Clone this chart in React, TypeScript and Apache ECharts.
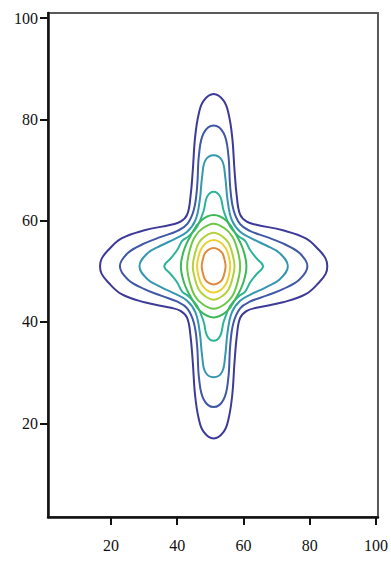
import React, { useEffect, useRef } from "react";
import * as echarts from "echarts";

// Axis tick values
const X_TICKS = [20, 40, 60, 80, 100];
const Y_TICKS = [20, 40, 60, 80, 100];

// Centre of the contour family (data units)
const CENTER = [51, 51];

// Contour level colours, outermost to innermost
const LEVEL_COLORS = [
  "#3d3a98",
  "#4058a6",
  "#3597b0",
  "#2db497",
  "#3cb85a",
  "#6cc746",
  "#b3d13c",
  "#eccf34",
  "#e08a3c",
];

// Each contour: upper-left quadrant, as offsets
// [dx, dy] from the centre, going from the top point to the left point.
const LEVEL_1 = [
  [0, 34.0], [-3.0, 32.7], [-4.5, 30.1], [-5.6, 25.5], [-6.3, 18.9],
  [-7.0, 13.7], [-8.0, 10.2], [-10.0, 8.8], [-12.9, 8.2], [-20.9, 7.1],
  [-27.8, 5.5], [-31.8, 3.2], [-33.8, 1.5], [-34.3, 0],
];
const LEVEL_2 = [
  [0, 27.8], [-3.0, 26.3], [-4.4, 22.2], [-5.0, 15.6], [-6.0, 11.1],
  [-8.0, 8.3], [-10.9, 7.0], [-15.9, 5.8], [-20.9, 4.5], [-25.9, 2.6],
  [-28.3, 0],
];
const LEVEL_3 = [
  [0, 21.9], [-2.5, 20.9], [-3.5, 17.6], [-4.2, 13.0], [-5.5, 9.1],
  [-8.0, 6.8], [-11.4, 5.5], [-15.9, 4.1], [-19.9, 2.6], [-22.4, 0],
];
const LEVEL_4 = [
  [0, 14.7], [-2.0, 13.7], [-3.0, 11.0], [-5.0, 7.8], [-7.6, 5.9],
  [-9.5, 5.0], [-11.0, 3.2], [-12.9, 1.6], [-14.9, 0],
];
const LEVEL_5 = [
  [0, 10.1], [-4.0, 8.9], [-6.8, 6.2], [-8.9, 3.3], [-9.9, 0],
];
const LEVEL_6 = [
  [0, 8.4], [-3.3, 7.5], [-5.7, 5.8], [-7.2, 3.2], [-8.0, 0],
];
const LEVEL_7 = [
  [0, 6.6], [-2.6, 5.9], [-4.5, 4.6], [-5.6, 2.6], [-6.3, 0],
];
const LEVEL_8 = [
  [0, 5.2], [-2.1, 4.7], [-3.6, 3.6], [-4.5, 2.1], [-5.0, 0],
];
const LEVEL_9 = [
  [0, 3.6], [-1.5, 3.3], [-2.6, 2.6], [-3.2, 1.5], [-3.6, 0],
];

const CONTOURS = [
  LEVEL_1, LEVEL_2, LEVEL_3, LEVEL_4, LEVEL_5, LEVEL_6, LEVEL_7, LEVEL_8, LEVEL_9,
];

// Build a closed loop from a quadrant using the picture's mirror symmetry
function fullLoop(q: number[][]): number[][] {
  const n = q.length;
  const ul = q.map(([dx, dy]) => [dx, dy]);
  const ll = q.slice(0, n - 1).reverse().map(([dx, dy]) => [dx, -dy]);
  const lr = q.slice(1).map(([dx, dy]) => [-dx, -dy]);
  const ur = q.slice(1, n - 1).reverse().map(([dx, dy]) => [-dx, dy]);
  return [...ul, ...ll, ...lr, ...ur].map(([dx, dy]) => [
    CENTER[0] + dx,
    CENTER[1] + dy,
  ]);
}

const LOOPS = CONTOURS.map(fullLoop);

const FONT = "'Liberation Serif', 'Times New Roman', serif";

export default function App() {
  const ref = useRef<HTMLDivElement>(null);

  useEffect(() => {
    if (!ref.current) return;
    const chart = echarts.init(ref.current, null, { renderer: "svg" });
    chart.setOption({
      animation: false,
      backgroundColor: "#ffffff",
      grid: {
        left: 48,
        right: 9,
        top: 13,
        bottom: 45,
        show: true,
        borderColor: "#5a5a5a",
        borderWidth: 2,
      },
      xAxis: {
        type: "value",
        min: 1,
        max: 100.6,
        splitLine: { show: false },
        axisLine: { lineStyle: { color: "#111", width: 2.5 } },
        axisTick: {
          customValues: X_TICKS,
          length: 8,
          lineStyle: { color: "#111", width: 2 },
        },
        axisLabel: {
          customValues: X_TICKS,
          color: "#111",
          fontFamily: FONT,
          fontSize: 16,
          margin: 20,
        },
      },
      yAxis: {
        type: "value",
        min: 1.5,
        max: 101,
        splitLine: { show: false },
        axisLine: { lineStyle: { color: "#111", width: 2.5 } },
        axisTick: {
          customValues: Y_TICKS,
          length: 8,
          lineStyle: { color: "#111", width: 2 },
        },
        axisLabel: {
          customValues: Y_TICKS,
          color: "#111",
          fontFamily: FONT,
          fontSize: 16,
          margin: 10,
        },
      },
      series: [
        {
          type: "custom",
          coordinateSystem: "cartesian2d",
          silent: true,
          clip: false,
          data: CONTOURS.map((_, i) => [CENTER[0], CENTER[1], i]),
          encode: { x: 0, y: 1 },
          renderItem: (params: any, api: any) => {
            const i = params.dataIndex;
            const pts = LOOPS[i].map((p) => api.coord(p));
            return {
              type: "polygon",
              shape: { points: pts, smooth: 0.4 },
              style: {
                fill: "none",
                stroke: LEVEL_COLORS[i],
                lineWidth: 2,
              },
            };
          },
        },
      ],
    });
    return () => chart.dispose();
  }, []);

  return (
    <div
      ref={ref}
      style={{ position: "fixed", left: 0, top: 0, width: 391, height: 562 }}
    />
  );
}
